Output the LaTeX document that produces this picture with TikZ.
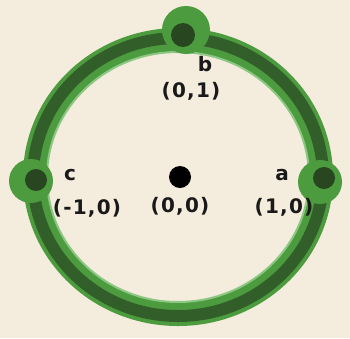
\documentclass[tikz,border=0pt]{standalone}
\usepackage{fontspec}
\setmainfont{DejaVu Sans}
\usetikzlibrary{positioning}
\definecolor{paper}{HTML}{F4ECDC}
\definecolor{ringgreen}{HTML}{4C9B3E}
\definecolor{ringlight}{HTML}{8CC783}
\definecolor{ringdark}{HTML}{22381B}
\tikzset{ring/.style={line width=24pt,ringgreen},core/.style={line width=12pt,ringdark,opacity=.6},rim/.style={line width=2pt,ringlight},blob/.style={circle,fill=ringgreen,minimum size=48pt,inner sep=0pt},pin/.style={circle,fill=ringdark,minimum size=24pt,inner sep=0pt,opacity=.85},dot/.style={circle,fill=black,minimum size=22pt,inner sep=0pt},lab/.style={font=\fontsize{20}{24}\selectfont\bfseries\addfontfeature{LetterSpace=6},inner sep=1pt,text=black!90}}

\begin{document}
\begin{tikzpicture}[x=1pt,y=-1pt]
\fill[paper] (0,0) rectangle (350,338);
\useasboundingbox (0,0) rectangle (350,338);
\coordinate (o) at (178,177);
\draw[ring] (o) ellipse [x radius=143,y radius=137];
\draw[core] (o) ellipse [x radius=145,y radius=139];
\draw[rim] (o) ellipse [x radius=131,y radius=125];
\node[blob] (b) at (186,30) {};
\node[blob,minimum size=44pt] (c) at (31,181) {};
\node[blob,minimum size=44pt] (a) at (320,182) {};
\node[pin] at (183,35) {};
\node[pin,minimum size=22pt] at (36,180) {};
\node[pin,minimum size=22pt] at (324,178) {};
\node[dot] (center) at (180,177) {};
\node[lab] (bname) at (205,64) {b};
\node[lab] (bpos) at (191,91) {(0,1)};
\node[lab] (cname) at (70,175) {c};
\node[lab] (cpos) at (87,208) {(-1,0)};
\node[lab] (aname) at (282,175) {a};
\node[lab] (apos) at (284,207) {(1,0)};
\node[lab,below=8pt of center] (opos) {(0,0)};
\end{tikzpicture}
\end{document}
